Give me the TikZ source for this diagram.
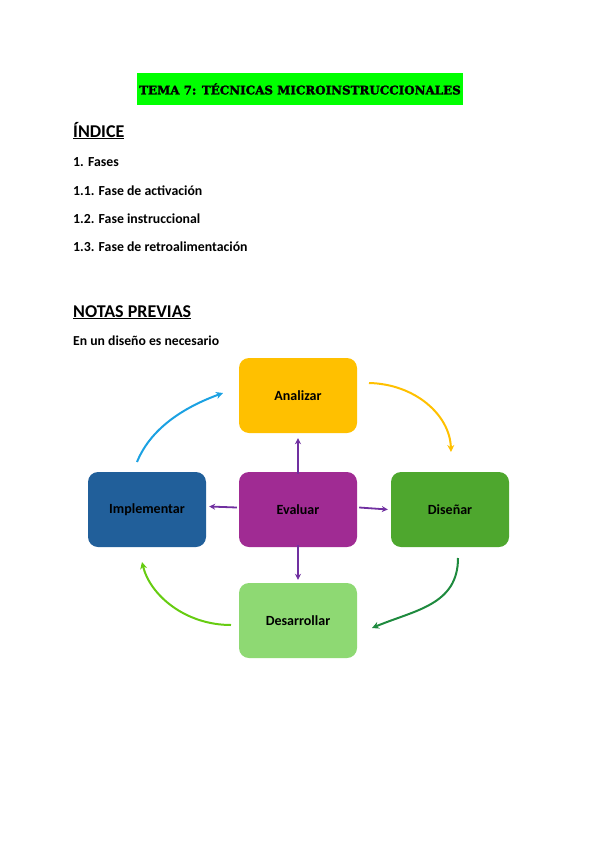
\documentclass[tikz,border=0pt]{standalone}
\usepackage{fontspec}
\setmainfont{Carlito}
\newfontfamily\titlefont{DejaVu Serif Bold}[FakeBold=2]
\usetikzlibrary{arrows.meta}
\definecolor{titlegreen}{HTML}{00FF00}
\definecolor{cyellow}{HTML}{FFC000}
\definecolor{cpurple}{HTML}{A02B93}
\definecolor{cblue}{HTML}{215F9A}
\definecolor{cgreen}{HTML}{4EA72E}
\definecolor{clight}{HTML}{8ED973}
\definecolor{apurple}{HTML}{7030A0}
\definecolor{ayellow}{HTML}{FFC000}
\definecolor{adgreen}{HTML}{1E8A3E}
\definecolor{algreen}{HTML}{66CC11}
\definecolor{ablue}{HTML}{1BA1E2}
\tikzset{
  box/.style={rounded corners=10pt, minimum width=118pt, minimum height=75pt, inner sep=0pt, font=\fontsize{14}{16}\selectfont\bfseries, text=black},
  heading/.style={anchor=base west, inner sep=0pt, font=\fontsize{18}{20}\selectfont\bfseries},
  item/.style={anchor=base west, inner sep=0pt, font=\fontsize{13.8}{16}\selectfont\bfseries},
  parrow/.style={draw=apurple, line width=1.8pt, -{Stealth[length=6pt,width=6pt]}},
  carrow/.style={line width=2pt, -{Stealth[length=7pt,width=7pt]}}
}
\begin{document}
\begin{tikzpicture}[x=1pt,y=-1pt]
\useasboundingbox (0,0) rectangle (599,848);
% title
\node[fill=titlegreen, minimum width=326pt, minimum height=32pt, inner sep=0pt] (title) at (300,89)
  {\titlefont\fontsize{11.9}{13}\selectfont TEMA 7: TÉCNICAS MICROINSTRUCCIONALES};
% index
\node[heading] (indice) at (73,137) {\underline{ÍNDICE}};
\node[item] (i1) at (73,166) {1. Fases};
\node[item] (i2) at (73,195) {1.1. Fase de activación};
\node[item] (i3) at (73,223) {1.2. Fase instruccional};
\node[item] (i4) at (73,251) {1.3. Fase de retroalimentación};
\node[heading] (notas) at (73,317) {\underline{NOTAS PREVIAS}};
\node[item, font=\fontsize{13.7}{16}\selectfont\bfseries] (en) at (73,345) {En un diseño es necesario};
% boxes
\node[box, fill=cyellow] (analizar) at (298,395.5) {Analizar};
\node[box, fill=cpurple] (evaluar) at (298,509.5) {Evaluar};
\node[box, fill=cblue] (implementar) at (147,509.5) {Implementar};
\node[box, fill=cgreen] (disenar) at (450,509.5) {Diseñar};
\node[box, fill=clight] (desarrollar) at (298,620.5) {Desarrollar};
% purple arrows
\draw[parrow] ([yshift=-2pt]evaluar.north) -- ([yshift=-5pt]analizar.south);
\draw[parrow] ([xshift=-2pt,yshift=2pt]evaluar.west) -- ([xshift=3pt,yshift=3pt]implementar.east);
\draw[parrow] ([xshift=2pt,yshift=2pt]evaluar.east) -- ([xshift=-3pt]disenar.east -| disenar.west);
\draw[parrow] ([yshift=2pt]evaluar.south) -- ([yshift=3pt]desarrollar.north);
% cycle arrows
\coordinate (y0) at (369,383);
\coordinate (y1) at (451,452);
\coordinate (g0) at (458,558);
\coordinate (g1) at (372,628);
\coordinate (l0) at (231,625);
\coordinate (l1) at (142,562);
\coordinate (b0) at (137,462);
\coordinate (b1) at (223,393);
\draw[carrow, ayellow] (y0) .. controls (415,384) and (450,415) .. (y1);
\draw[carrow, adgreen] (g0) .. controls (458,605) and (415,610) .. (g1);
\draw[carrow, algreen] (l0) .. controls (185,625) and (150,595) .. (l1);
\draw[carrow, ablue] (b0) .. controls (152,425) and (190,405) .. (b1);
\end{tikzpicture}
\end{document}
